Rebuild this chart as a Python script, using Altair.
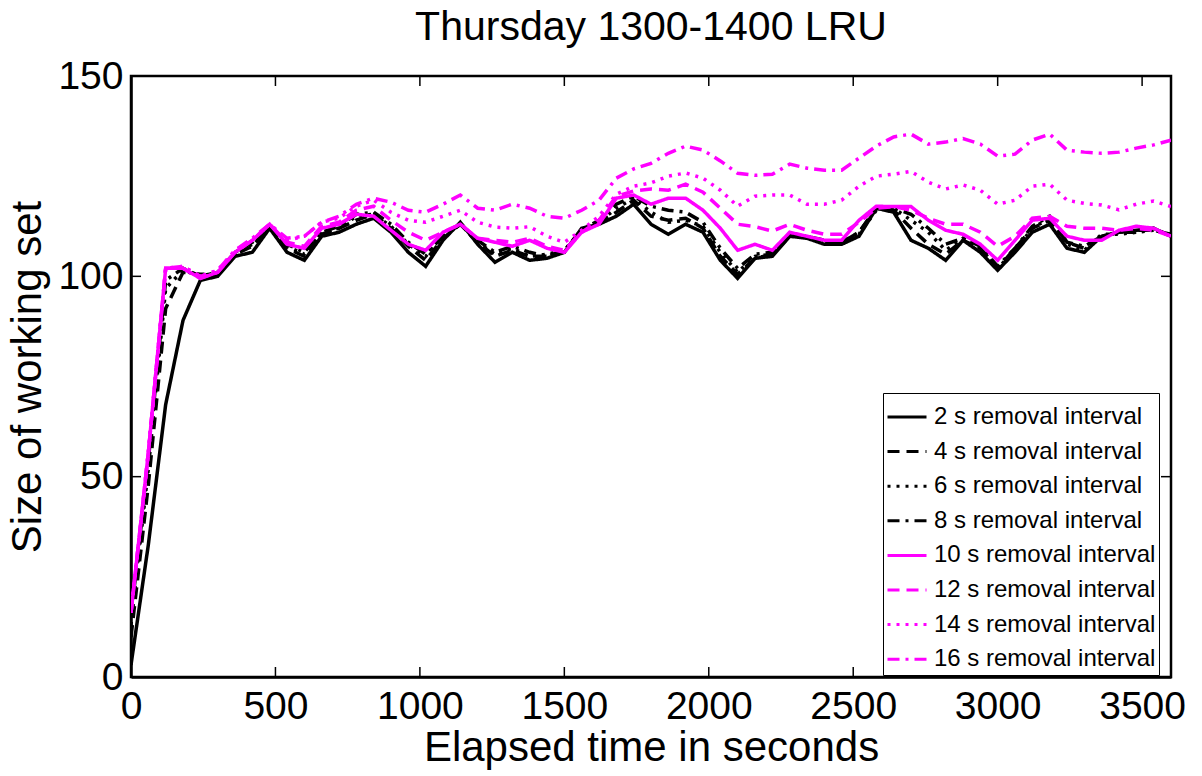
import altair as alt
import pandas as pd

# ---- data (every 60 s) ----
time_s = list(range(0, 3601, 60))

s2 = [3, 33, 68, 89, 99, 100, 105, 106, 112, 106,
      104, 110, 111, 113, 114.5, 111, 106, 102.5, 109, 113.5,
      108, 103.5, 106, 104, 104.5, 106, 112, 113, 115, 118,
      113, 110.5, 113, 111, 104, 99.5, 104.5, 105, 110, 109.5,
      108, 108, 110, 117, 116, 109, 107, 104, 109, 106,
      101.5, 106, 111, 113, 107, 106, 110, 111, 111.5, 112,
      110]
s4 = [10, 48, 92, 101, 100.5, 100.5, 105.5, 107.5, 112.5, 107,
      105, 110.5, 112, 114, 115.5, 112, 107.5, 104, 109.5, 113,
      108.5, 105, 106.5, 105, 105, 106, 111.5, 113.5, 116, 119,
      115, 114, 114.5, 112, 105, 100.5, 104.5, 105.5, 110, 110,
      108.5, 108.5, 111, 117, 116.5, 112, 108, 105.5, 109, 107,
      102, 107, 112, 114, 108.5, 107, 110, 111, 111, 112,
      110]
s6 = [13, 52, 97, 101.5, 100, 101, 105.5, 108, 112.5, 107.5,
      105.5, 111, 112, 115, 115.5, 112.5, 108, 105, 110, 113,
      108.5, 105.5, 107, 105, 105.5, 106.5, 111.5, 113.5, 117, 119.5,
      116, 113.5, 114, 112.5, 106, 101, 105, 105.5, 110.5, 110,
      108.5, 108, 110.5, 116.5, 117, 114, 111, 106.5, 109.5, 107,
      102, 106.5, 112, 114.5, 108, 106.5, 110.5, 110.5, 111, 111.5,
      110.5]
s8 = [15, 54, 99, 102, 100, 101, 106, 108.5, 112.5, 108,
      106, 111, 112.5, 115.5, 116, 113, 108.5, 105.5, 110, 113,
      109, 106, 107.5, 106, 105, 106.5, 111.5, 114, 118, 120,
      117.5, 116.5, 116, 113.5, 107, 102, 105.5, 106, 110.5, 110,
      109, 108.5, 111, 117, 117, 115.5, 112, 108, 109.5, 107.5,
      102.5, 107, 112.5, 115, 108.5, 107.5, 110, 111, 111.5, 111.5,
      110.5]
s10 = [16, 56, 102, 102, 99.5, 101, 106, 109, 113, 108,
       107, 112, 113, 115.5, 115, 111.5, 108, 106.5, 111, 113,
       109.5, 108.5, 107.5, 109, 107, 106, 111, 113, 119.5, 120.3,
       118, 119.5, 119.5, 116.5, 112, 106.5, 108, 106.5, 111, 110,
       109, 109, 114, 117.5, 117.4, 117.4, 114, 111.5, 110.5, 108,
       104, 109, 114, 114.5, 110, 109, 109, 111.5, 112.5, 112,
       110]
s12 = [16, 56, 102, 102, 99.5, 101, 106, 109, 113, 108.5,
       107.5, 112.5, 113.5, 116.5, 117.5, 114, 111, 109, 111, 113,
       109.5, 109, 108.5, 109.5, 107.5, 106.5, 111, 114, 120, 121.3,
       121.8, 121.5, 123, 121, 117, 113, 112.4, 111.3, 113, 111.5,
       110.5, 110.5, 113.5, 117, 117.4, 116.5, 114.5, 113, 113, 111,
       107.5, 110, 114.5, 115, 112.5, 112, 112, 111.5, 112, 111.5,
       110]
s14 = [16, 56, 102, 102.5, 100, 101.5, 106.5, 109, 113, 109,
       110, 113.5, 114.5, 117.5, 119, 116, 114, 113.5, 115, 116.5,
       113.5, 112.3, 112, 112.4, 110, 108.5, 111.5, 115, 120.5, 122.5,
       123.3, 125, 125.8, 124.5, 121.5, 117.5, 120, 120.3, 120.3, 118,
       118, 119, 122.5, 125, 125.5, 126.2, 123.5, 121.8, 122.8, 121.5,
       118, 119, 122.5, 123, 119, 118.2, 117.8, 116.6, 118, 118.8,
       117.4]
s16 = [16, 56, 102, 102.5, 100, 101.5, 106.5, 109.5, 113, 109.5,
       110, 113.5, 115, 118, 119.5, 118.5, 116.5, 116, 118, 120.3,
       117, 116.5, 118, 117, 115, 114.5, 116.5, 119, 124.5, 126.8,
       128.2, 130.7, 132.5, 131.5, 128.8, 125.7, 125.2, 125.5, 128, 127,
       126.5, 126.5, 129.5, 132.5, 134.8, 135.5, 133, 133.5, 134.4, 133,
       130, 130.5, 134, 135.5, 131.5, 131, 130.7, 131, 132, 132.8,
       134]

labels = ["2 s removal interval", "4 s removal interval", "6 s removal interval",
          "8 s removal interval", "10 s removal interval", "12 s removal interval",
          "14 s removal interval", "16 s removal interval"]
series_values = [s2, s4, s6, s8, s10, s12, s14, s16]
colors = ["#000000"] * 4 + ["#ff00ff"] * 4
dashes = [[1, 0], [12, 7], [3, 6], [12, 6, 3, 6]] * 2

x_ticks = [0, 500, 1000, 1500, 2000, 2500, 3000, 3500]
y_ticks = [0, 50, 100, 150]

rows = []
for lab, vals in zip(labels, series_values):
    for t, v in zip(time_s, vals):
        rows.append({"time": t, "size": v, "series": lab})
df = pd.DataFrame(rows)

W, H = 1040, 601
FONT = "Liberation Sans"

xscale = alt.Scale(domain=[0, 3600], nice=False, zero=False)
yscale = alt.Scale(domain=[0, 150], nice=False, zero=False)
xaxis = alt.Axis(values=x_ticks, title="Elapsed time in seconds", labelFlush=False,
                 format="d", labelPadding=10, titlePadding=1)
yaxis = alt.Axis(values=y_ticks, title="Size of working set", format="d",
                 labelPadding=8, titlePadding=8)

leg = alt.Legend(title=None, orient="none", legendX=752, legendY=317,
                 symbolType="stroke", symbolSize=1521, symbolStrokeWidth=3,
                 labelFont=FONT, labelFontSize=24, labelColor="black", labelLimit=400,
                 labelOffset=6, rowPadding=1.6, padding=3,
                 strokeColor="black", fillColor="white")

lines = alt.Chart(df).mark_line(strokeWidth=3.5, clip=True).encode(
    x=alt.X("time:Q", scale=xscale, axis=xaxis),
    y=alt.Y("size:Q", scale=yscale, axis=yaxis),
    color=alt.Color("series:N", scale=alt.Scale(domain=labels, range=colors), legend=leg),
    strokeDash=alt.StrokeDash("series:N", scale=alt.Scale(domain=labels, range=dashes), legend=leg),
)

ydf = pd.DataFrame({"v": y_ticks})
xdf = pd.DataFrame({"v": x_ticks})
yt_left = alt.Chart(ydf).mark_rule(color="black", strokeWidth=1.5).encode(
    y=alt.Y("v:Q", scale=yscale, axis=yaxis), x=alt.value(0), x2=alt.value(10))
yt_right = alt.Chart(ydf).mark_rule(color="black", strokeWidth=1.5).encode(
    y=alt.Y("v:Q", scale=yscale, axis=yaxis), x=alt.value(W - 10), x2=alt.value(W))
xt_bot = alt.Chart(xdf).mark_rule(color="black", strokeWidth=1.5).encode(
    x=alt.X("v:Q", scale=xscale, axis=xaxis), y=alt.value(H - 10), y2=alt.value(H))
xt_top = alt.Chart(xdf).mark_rule(color="black", strokeWidth=1.5).encode(
    x=alt.X("v:Q", scale=xscale, axis=xaxis), y=alt.value(0), y2=alt.value(10))

chart = alt.layer(lines, yt_left, yt_right, xt_bot, xt_top).properties(
    width=W, height=H,
    title=alt.TitleParams("Thursday 1300-1400 LRU", font=FONT, fontSize=41,
                          fontWeight="normal", color="black", anchor="middle",
                          baseline="alphabetic", offset=9, dy=33, frame="group"),
    autosize=alt.AutoSizeParams(type="none"),
    padding={"left": 131, "top": 76, "right": 31, "bottom": 99},
).configure_view(
    stroke="black", strokeWidth=2.5
).configure_axis(
    labelFont=FONT, labelFontSize=39, labelColor="black",
    titleFont=FONT, titleFontSize=42, titleFontWeight="normal", titleColor="black",
    ticks=False, grid=False, domainColor="black", domainWidth=2.5
)

chart.save("out.html", embed_options={"renderer": "svg", "actions": False})
